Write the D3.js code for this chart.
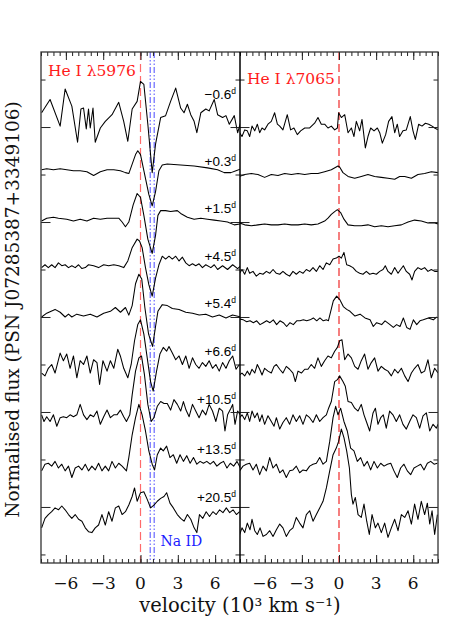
<!DOCTYPE html>
<html>
<head>
<meta charset="utf-8">
<script src="https://cdn.jsdelivr.net/npm/d3@7"></script>
<style>
  body { margin: 0; background: #fff; }
</style>
</head>
<body>
<script>
// epochs of the spectra (days), top to bottom
const epochs = ["−0.6", "+0.3", "+1.5", "+4.5", "+5.4", "+6.6", "+10.5", "+13.5", "+20.5"];
const lineNames = ["He I λ5976", "He I λ7065"];
const naD = [0.78, 1.1]; // Na I D1/D2 position in the He I 5876 frame (10^3 km/s)
const velMajor = [-6, -3, 0, 3, 6];
const offsetStep = 0.5; // vertical shift between consecutive spectra

// [velocity (10^3 km/s), flux relative to shifted continuum]
const l5976_0 = [[-7.95,0.15],[-7.27,0.29],[-6.46,0.01],[-6.06,0.40],[-5.52,0.22],[-5.06,-0.16],[-4.79,0.19],[-4.58,0.20],[-4.36,-0.02],[-4.18,0.19],[-4.04,-0.01],[-3.82,0.20],[-3.64,-0.16],[-3.23,-0.01],[-2.83,0.06],[-2.29,0.13],[-1.75,0.26],[-1.35,0.06],[-1.02,-0.15],[-0.67,0.19],[-0.27,0.27],[0.0,0.48],[0.27,0.45],[0.59,0.03],[0.94,-0.48],[1.21,-0.18],[1.62,0.10],[2.02,0.12],[2.42,0.27],[2.83,0.41],[3.23,0.20],[3.50,0.15],[3.77,0.24],[4.04,0.13],[4.31,0.06],[4.53,-0.06],[4.85,0.15],[5.25,0.19],[5.52,0.17],[5.93,0.29],[6.20,0.13],[6.60,0.10],[6.87,0.12],[7.14,0.03],[7.54,0.12],[7.81,-0.06],[8.08,0.06]];
const l5976_1 = [[-7.95,0.05],[-7.54,0.06],[-7.00,0.05],[-6.46,0.06],[-5.93,0.05],[-5.39,0.04],[-4.85,0.04],[-4.31,0.03],[-3.77,-0.01],[-3.23,0.03],[-2.69,0.05],[-2.15,0.05],[-1.62,0.04],[-1.21,0.02],[-0.94,0.01],[-0.67,0.11],[-0.40,0.21],[-0.22,0.25],[0.0,0.21],[0.27,0.04],[0.67,-0.21],[0.94,-0.33],[1.21,-0.18],[1.48,0.04],[1.75,0.10],[2.15,0.11],[3.23,0.10],[4.31,0.09],[5.39,0.07],[6.20,0.05],[6.73,0.02],[7.27,0.02],[7.68,0.04],[8.08,0.06]];
const l5976_2 = [[-7.95,0.01],[-7.54,0.04],[-7.00,0.05],[-6.60,0.04],[-5.93,0.03],[-5.39,0.01],[-4.85,0.03],[-4.31,0.01],[-3.77,0.04],[-3.23,0.03],[-2.69,0.04],[-2.15,0.04],[-1.75,0.04],[-1.48,0.0],[-1.21,-0.05],[-0.94,0.0],[-0.59,0.18],[-0.27,0.30],[0.0,0.26],[0.27,0.07],[0.59,-0.18],[0.94,-0.33],[1.21,-0.14],[1.40,0.07],[1.62,0.12],[2.02,0.12],[2.42,0.11],[2.96,0.12],[3.23,0.09],[3.77,0.05],[4.31,0.03],[4.85,0.04],[5.39,0.03],[5.93,0.02],[6.46,0.01],[7.00,0.0],[7.54,-0.03],[8.08,-0.02]];
const l5976_3 = [[-7.95,0.02],[-7.68,0.05],[-7.41,0.02],[-7.14,0.05],[-6.87,0.02],[-6.60,0.07],[-6.33,0.04],[-6.06,0.05],[-5.79,0.02],[-5.52,0.04],[-5.25,0.02],[-4.98,0.05],[-4.71,0.01],[-4.44,0.02],[-4.18,0.05],[-3.77,0.04],[-3.37,0.02],[-2.96,0.05],[-2.56,0.04],[-2.15,0.05],[-1.75,0.04],[-1.35,0.02],[-1.02,0.09],[-0.67,0.23],[-0.27,0.32],[-0.08,0.30],[0.13,0.23],[0.40,0.02],[0.67,-0.16],[0.94,-0.28],[1.21,-0.09],[1.48,0.05],[1.75,0.14],[2.02,0.11],[2.29,0.14],[2.56,0.11],[2.83,0.14],[3.10,0.09],[3.37,0.13],[3.64,0.07],[3.91,0.04],[4.18,0.06],[4.44,0.04],[4.71,0.06],[4.98,0.02],[5.25,0.05],[5.66,0.02],[5.93,0.05],[6.20,0.0],[6.60,0.04],[7.00,0.0],[7.41,0.05],[7.81,0.01],[8.08,0.04]];
const l5976_4 = [[-7.95,0.0],[-7.54,0.04],[-6.87,0.08],[-6.46,0.05],[-6.06,0.0],[-5.79,0.03],[-5.52,0.0],[-5.12,0.03],[-4.58,0.01],[-4.04,0.03],[-3.50,0.0],[-2.96,0.04],[-2.42,0.06],[-2.02,0.10],[-1.61,0.05],[-1.21,0.10],[-0.94,0.02],[-0.67,0.12],[-0.40,0.35],[-0.13,0.45],[0.10,0.40],[0.35,0.10],[0.65,-0.18],[0.97,-0.31],[1.21,-0.10],[1.40,0.06],[1.75,0.13],[2.16,0.12],[2.56,0.09],[3.10,0.08],[3.64,0.05],[4.18,0.04],[4.72,0.02],[5.25,0.03],[5.79,0.0],[6.33,0.02],[6.87,-0.01],[7.40,0.02],[8.08,0.0]];
const l5976_5 = [[-7.95,-0.09],[-7.68,-0.12],[-7.41,-0.04],[-7.14,0.0],[-6.87,-0.09],[-6.46,0.12],[-6.20,0.04],[-5.93,0.11],[-5.66,-0.04],[-5.39,0.09],[-5.12,-0.14],[-4.85,0.04],[-4.58,0.0],[-4.31,0.09],[-4.04,-0.09],[-3.77,0.05],[-3.50,0.02],[-3.29,-0.21],[-3.02,0.04],[-2.69,-0.07],[-2.42,0.04],[-2.15,-0.04],[-1.83,0.16],[-1.62,0.09],[-1.35,-0.04],[-1.02,-0.14],[-0.75,0.0],[-0.48,0.25],[-0.22,0.42],[0.0,0.47],[0.27,0.32],[0.54,0.07],[0.81,-0.18],[1.02,-0.28],[1.29,-0.07],[1.56,0.11],[1.83,0.18],[2.10,0.14],[2.29,0.19],[2.56,0.12],[2.83,0.05],[3.10,0.09],[3.37,0.0],[3.64,0.09],[3.91,-0.04],[4.18,0.07],[4.44,0.0],[4.71,-0.04],[4.98,0.02],[5.25,-0.02],[5.52,0.04],[5.79,-0.04],[6.06,0.0],[6.33,-0.07],[6.60,0.02],[6.87,-0.04],[7.14,0.04],[7.41,0.09],[7.68,-0.05],[7.95,0.0]];
const l5976_6 = [[-7.95,-0.03],[-7.76,-0.10],[-7.54,-0.05],[-7.27,-0.10],[-7.00,-0.03],[-6.73,-0.15],[-6.46,-0.06],[-6.20,-0.05],[-5.93,-0.06],[-5.66,-0.03],[-5.39,-0.05],[-5.12,-0.03],[-4.85,0.08],[-4.58,-0.03],[-4.31,-0.08],[-4.04,-0.03],[-3.77,-0.05],[-3.50,0.01],[-3.23,-0.13],[-2.96,-0.05],[-2.69,0.02],[-2.42,-0.06],[-2.15,-0.03],[-1.89,-0.03],[-1.62,0.02],[-1.35,-0.05],[-1.13,-0.10],[-0.86,-0.03],[-0.67,0.18],[-0.40,0.43],[-0.13,0.57],[0.08,0.59],[0.32,0.39],[0.59,0.08],[0.86,-0.10],[1.08,-0.06],[1.35,0.06],[1.62,0.11],[1.89,0.09],[2.15,0.09],[2.42,0.02],[2.69,0.13],[2.96,0.08],[3.23,0.01],[3.45,0.11],[3.66,0.02],[3.91,-0.05],[4.18,0.08],[4.44,0.01],[4.71,-0.06],[4.98,0.02],[5.25,-0.03],[5.52,0.08],[5.79,0.01],[6.06,-0.10],[6.33,0.04],[6.60,0.01],[6.79,-0.20],[7.00,-0.03],[7.27,0.04],[7.41,0.08],[7.60,-0.13],[7.81,0.01],[8.03,-0.03]];
const l5976_7 = [[-7.95,-0.12],[-7.68,-0.05],[-7.41,-0.04],[-7.14,-0.07],[-6.87,-0.02],[-6.60,-0.09],[-6.33,-0.05],[-6.06,-0.12],[-5.79,-0.07],[-5.52,-0.19],[-5.25,-0.09],[-4.98,-0.07],[-4.71,-0.11],[-4.44,-0.05],[-4.18,-0.12],[-3.91,-0.07],[-3.64,-0.11],[-3.37,-0.04],[-3.10,-0.12],[-2.83,-0.07],[-2.56,-0.12],[-2.29,-0.02],[-2.02,-0.09],[-1.75,-0.04],[-1.48,-0.07],[-1.13,-0.12],[-0.94,0.02],[-0.67,0.26],[-0.40,0.44],[-0.13,0.58],[0.13,0.47],[0.40,0.30],[0.67,0.09],[0.94,-0.05],[1.13,-0.11],[1.35,0.05],[1.62,0.12],[1.83,0.09],[2.10,0.14],[2.37,0.02],[2.64,0.05],[2.91,-0.04],[3.18,0.05],[3.45,-0.02],[3.72,0.04],[3.99,-0.04],[4.26,0.02],[4.53,-0.05],[4.79,-0.02],[5.06,-0.04],[5.33,-0.02],[5.60,-0.05],[5.87,-0.02],[6.14,-0.07],[6.41,-0.04],[6.68,-0.02],[6.95,-0.09],[7.22,-0.04],[7.49,-0.07],[7.76,-0.02],[8.03,-0.09]];
const l5976_8 = [[-7.95,-0.22],[-7.68,-0.12],[-7.41,-0.08],[-7.14,-0.05],[-6.87,-0.01],[-6.60,-0.03],[-6.33,0.01],[-6.06,-0.03],[-5.79,-0.08],[-5.52,-0.12],[-5.25,-0.08],[-4.98,-0.13],[-4.71,-0.15],[-4.44,-0.22],[-4.18,-0.26],[-3.91,-0.27],[-3.64,-0.22],[-3.37,-0.19],[-3.10,-0.08],[-2.83,-0.19],[-2.56,-0.05],[-2.29,-0.15],[-2.02,-0.01],[-1.75,0.01],[-1.48,-0.08],[-1.21,-0.05],[-0.94,0.02],[-0.67,0.11],[-0.48,0.20],[-0.27,0.06],[0.0,0.15],[0.27,0.16],[0.54,0.08],[0.81,-0.01],[1.08,0.02],[1.35,0.06],[1.62,0.09],[1.89,0.11],[2.10,0.15],[2.37,0.04],[2.64,-0.01],[2.96,-0.08],[3.23,-0.12],[3.50,-0.15],[3.77,-0.08],[4.04,-0.13],[4.31,-0.22],[4.53,-0.27],[4.74,-0.08],[5.01,-0.12],[5.28,-0.05],[5.55,-0.10],[5.82,-0.05],[6.09,-0.08],[6.36,-0.03],[6.63,-0.06],[6.90,-0.01],[7.17,-0.06],[7.44,-0.03],[7.71,-0.08],[7.97,-0.05]];

const l7065_0 = [[-8.03,-0.06],[-7.84,-0.10],[-7.62,-0.03],[-7.41,-0.04],[-7.22,-0.10],[-7.03,0.01],[-6.81,-0.04],[-6.60,0.03],[-6.41,-0.06],[-6.22,-0.01],[-6.01,-0.03],[-5.74,0.03],[-5.47,0.06],[-5.20,0.15],[-4.98,0.03],[-4.79,0.01],[-4.53,-0.03],[-4.18,0.13],[-3.91,-0.03],[-3.64,-0.01],[-3.37,-0.08],[-3.10,-0.04],[-2.77,-0.01],[-2.37,-0.01],[-1.97,0.04],[-1.70,0.10],[-1.43,0.03],[-1.16,0.03],[-0.89,-0.01],[-0.62,0.01],[-0.35,-0.03],[-0.13,-0.01],[-0.03,0.15],[0.19,0.10],[0.46,0.13],[0.73,-0.06],[1.00,-0.01],[1.21,-0.10],[1.40,0.06],[1.67,-0.04],[1.86,0.08],[2.13,-0.22],[2.34,-0.10],[2.56,-0.01],[2.83,-0.04],[3.10,-0.01],[3.29,-0.06],[3.50,-0.17],[3.77,-0.08],[4.01,0.06],[4.28,0.11],[4.50,-0.06],[4.71,0.03],[4.90,-0.10],[5.17,-0.04],[5.44,-0.03],[5.76,0.11],[5.98,-0.04],[6.17,-0.13],[6.44,0.03],[6.71,0.01],[6.98,0.04],[7.25,0.03],[7.52,0.01],[7.73,-0.01],[8.00,-0.03]];
const l7065_1 = [[-8.03,-0.02],[-7.62,0.0],[-7.08,0.01],[-6.55,0.0],[-6.01,-0.03],[-5.47,0.0],[-4.93,-0.01],[-4.39,0.01],[-3.85,0.0],[-3.31,0.01],[-2.77,0.0],[-2.24,0.01],[-1.70,0.01],[-1.16,0.03],[-0.62,0.05],[-0.08,0.09],[0.05,0.08],[0.32,0.02],[0.73,-0.02],[1.27,-0.04],[1.80,-0.02],[2.34,0.0],[2.88,-0.02],[3.42,-0.03],[3.96,-0.04],[4.50,-0.05],[4.90,-0.02],[5.31,-0.02],[5.85,-0.04],[6.38,0.0],[6.92,0.01],[7.46,0.03],[8.00,0.02]];
const l7065_2 = [[-8.03,-0.01],[-7.62,-0.03],[-7.08,-0.04],[-6.55,-0.03],[-6.01,-0.02],[-5.47,-0.03],[-4.93,-0.03],[-4.39,-0.02],[-3.85,-0.03],[-3.31,-0.03],[-2.77,-0.02],[-2.24,-0.03],[-1.70,-0.02],[-1.16,0.01],[-0.89,0.04],[-0.62,0.08],[-0.35,0.11],[-0.13,0.13],[0.13,0.10],[0.40,0.03],[0.73,-0.03],[1.27,-0.04],[1.80,-0.04],[2.34,-0.03],[2.88,-0.05],[3.42,-0.04],[3.96,-0.05],[4.50,-0.04],[5.04,-0.03],[5.58,0.0],[6.11,0.02],[6.65,0.01],[7.19,-0.01],[7.73,-0.01],[8.00,-0.02]];
const l7065_3 = [[-8.03,-0.04],[-7.84,0.0],[-7.62,-0.05],[-7.41,0.02],[-7.22,-0.04],[-6.95,-0.02],[-6.68,-0.07],[-6.41,-0.04],[-6.14,-0.05],[-5.87,-0.02],[-5.60,-0.04],[-5.33,0.0],[-5.06,-0.04],[-4.79,-0.05],[-4.53,-0.02],[-4.26,-0.05],[-3.99,-0.07],[-3.72,-0.02],[-3.45,-0.05],[-3.18,-0.02],[-2.91,-0.04],[-2.64,0.0],[-2.37,-0.02],[-2.10,0.02],[-1.83,-0.02],[-1.56,0.04],[-1.29,0.0],[-1.02,0.07],[-0.75,0.05],[-0.48,0.11],[-0.22,0.12],[0.0,0.14],[0.19,0.12],[0.40,0.18],[0.62,0.05],[0.86,0.04],[1.13,0.02],[1.40,-0.02],[1.67,-0.04],[1.94,-0.05],[2.21,-0.02],[2.48,-0.05],[2.75,-0.04],[3.02,-0.05],[3.29,-0.02],[3.56,0.0],[3.74,0.04],[3.96,-0.02],[4.23,-0.05],[4.50,0.02],[4.77,-0.04],[4.98,0.0],[5.20,0.04],[5.44,-0.02],[5.71,-0.05],[5.90,-0.11],[6.11,-0.02],[6.38,0.02],[6.65,0.0],[6.92,0.02],[7.19,-0.02],[7.46,0.0],[7.73,-0.02],[8.00,-0.02]];
const l7065_4 = [[-8.10,-0.02],[-7.73,-0.03],[-7.46,-0.05],[-7.19,-0.04],[-6.92,-0.06],[-6.65,-0.04],[-6.38,-0.08],[-6.11,-0.06],[-5.85,-0.04],[-5.58,-0.06],[-5.31,-0.03],[-5.04,-0.08],[-4.77,-0.04],[-4.50,-0.06],[-4.23,-0.10],[-3.96,-0.06],[-3.69,-0.08],[-3.42,-0.04],[-3.15,-0.04],[-2.88,-0.03],[-2.61,-0.04],[-2.34,-0.03],[-2.07,-0.01],[-1.80,-0.04],[-1.54,-0.01],[-1.27,-0.04],[-1.00,-0.03],[-0.86,-0.04],[-0.46,0.17],[-0.19,0.22],[0.08,0.18],[0.35,0.11],[0.62,0.08],[0.89,0.06],[1.29,0.01],[1.70,0.03],[2.10,-0.01],[2.51,-0.03],[2.77,-0.10],[3.04,-0.06],[3.45,-0.08],[3.72,-0.04],[4.12,-0.08],[4.39,-0.11],[4.66,-0.08],[4.93,-0.10],[5.20,-0.01],[5.47,-0.11],[5.74,-0.13],[6.01,-0.03],[6.28,-0.08],[6.54,-0.04],[6.81,-0.03],[7.22,-0.01],[7.62,-0.03],[7.89,0.0]];
const l7065_5 = [[-8.03,-0.11],[-7.84,-0.09],[-7.62,-0.12],[-7.41,-0.07],[-7.22,-0.11],[-7.03,-0.05],[-6.81,-0.09],[-6.60,0.0],[-6.41,-0.05],[-6.22,-0.11],[-6.01,-0.04],[-5.74,-0.07],[-5.47,-0.09],[-5.25,-0.02],[-5.06,0.0],[-4.79,-0.05],[-4.53,-0.09],[-4.26,-0.02],[-3.99,-0.05],[-3.72,-0.09],[-3.53,-0.18],[-3.31,-0.07],[-3.04,-0.09],[-2.77,-0.05],[-2.51,-0.05],[-2.24,0.0],[-1.97,-0.04],[-1.70,0.07],[-1.43,-0.02],[-1.16,0.04],[-0.89,0.09],[-0.62,0.07],[-0.35,0.14],[-0.13,0.18],[0.05,0.25],[0.24,0.26],[0.46,0.05],[0.73,0.11],[1.00,0.07],[1.27,-0.02],[1.54,-0.05],[1.80,0.04],[2.07,0.11],[2.34,-0.05],[2.61,0.02],[2.88,0.07],[3.15,-0.07],[3.42,-0.02],[3.69,-0.05],[3.96,-0.07],[4.23,-0.12],[4.50,-0.05],[4.77,-0.09],[5.04,-0.04],[5.31,-0.12],[5.58,-0.18],[5.85,-0.09],[6.11,-0.04],[6.38,0.0],[6.65,-0.09],[6.92,-0.07],[7.19,0.05],[7.46,-0.14],[7.73,-0.04],[8.00,-0.09]];
const l7065_6 = [[-8.03,-0.06],[-7.84,-0.03],[-7.62,-0.08],[-7.41,-0.01],[-7.22,-0.10],[-7.03,0.01],[-6.81,-0.06],[-6.60,-0.01],[-6.41,-0.10],[-6.22,-0.03],[-6.01,-0.13],[-5.74,-0.04],[-5.47,-0.10],[-5.25,-0.15],[-5.06,-0.06],[-4.79,-0.18],[-4.53,-0.11],[-4.26,-0.06],[-3.99,-0.13],[-3.72,-0.03],[-3.45,-0.10],[-3.18,-0.04],[-2.91,-0.13],[-2.64,-0.03],[-2.37,-0.06],[-2.10,-0.11],[-1.83,-0.03],[-1.56,-0.10],[-1.29,-0.06],[-1.02,-0.03],[-0.84,0.04],[-0.62,0.11],[-0.35,0.32],[-0.13,0.34],[0.05,0.38],[0.32,0.32],[0.51,0.27],[0.73,0.11],[1.00,0.10],[1.27,0.04],[1.54,0.01],[1.80,0.08],[2.02,-0.03],[2.21,-0.10],[2.48,-0.20],[2.75,-0.01],[2.94,0.04],[3.15,-0.13],[3.37,-0.06],[3.58,-0.03],[3.82,-0.17],[4.09,0.01],[4.36,-0.03],[4.63,-0.10],[4.90,-0.03],[5.17,-0.13],[5.44,-0.18],[5.71,-0.10],[5.98,-0.03],[6.25,-0.06],[6.52,-0.17],[6.79,-0.04],[7.06,-0.01],[7.33,-0.20],[7.60,-0.13],[7.87,-0.17],[8.00,-0.13]];
const l7065_7 = [[-8.03,-0.12],[-7.76,-0.07],[-7.49,-0.05],[-7.22,-0.04],[-6.95,-0.11],[-6.68,-0.05],[-6.41,-0.16],[-6.14,-0.07],[-5.87,-0.12],[-5.60,0.02],[-5.33,-0.09],[-5.06,-0.05],[-4.79,-0.14],[-4.53,-0.11],[-4.26,-0.19],[-3.99,-0.12],[-3.72,-0.11],[-3.45,-0.07],[-3.18,-0.14],[-2.91,-0.11],[-2.64,-0.12],[-2.37,-0.07],[-2.10,-0.05],[-1.83,-0.04],[-1.56,0.02],[-1.29,-0.05],[-1.02,-0.02],[-0.75,0.19],[-0.48,0.44],[-0.27,0.56],[-0.08,0.47],[0.13,0.54],[0.40,0.40],[0.67,0.30],[0.94,0.12],[1.21,0.09],[1.48,-0.02],[1.75,0.02],[2.02,-0.07],[2.29,-0.02],[2.56,-0.11],[2.83,-0.02],[3.10,-0.09],[3.37,-0.04],[3.64,-0.07],[3.91,-0.05],[4.18,-0.04],[4.44,-0.12],[4.71,-0.19],[4.98,-0.09],[5.25,-0.05],[5.52,-0.12],[5.79,-0.16],[6.06,-0.09],[6.33,-0.07],[6.60,-0.05],[6.87,-0.11],[7.14,-0.04],[7.41,-0.02],[7.68,-0.05],[7.95,-0.04]];
const l7065_8 = [[-8.03,-0.29],[-7.84,-0.22],[-7.62,-0.27],[-7.41,-0.17],[-7.19,-0.24],[-7.03,-0.13],[-6.81,-0.25],[-6.60,-0.29],[-6.38,-0.22],[-6.14,-0.31],[-5.87,-0.29],[-5.60,-0.25],[-5.33,-0.31],[-5.06,-0.24],[-4.79,-0.18],[-4.53,-0.22],[-4.26,-0.31],[-3.99,-0.25],[-3.72,-0.22],[-3.45,-0.11],[-3.18,-0.17],[-2.91,-0.22],[-2.64,-0.08],[-2.37,-0.04],[-2.10,-0.15],[-1.83,-0.08],[-1.56,-0.01],[-1.29,0.06],[-1.02,0.20],[-0.75,0.38],[-0.48,0.55],[-0.22,0.62],[-0.03,0.69],[0.19,0.82],[0.40,0.73],[0.62,0.59],[0.84,0.41],[1.00,0.13],[1.13,0.03],[1.32,0.10],[1.54,-0.08],[1.80,-0.11],[2.02,0.03],[2.24,-0.15],[2.45,-0.29],[2.67,-0.08],[2.94,-0.22],[3.15,-0.17],[3.42,-0.27],[3.69,-0.17],[3.96,-0.32],[4.23,-0.22],[4.50,-0.13],[4.77,-0.25],[5.04,-0.08],[5.31,-0.11],[5.58,-0.04],[5.85,-0.18],[6.11,0.03],[6.38,-0.13],[6.65,0.06],[6.92,-0.08],[7.14,0.04],[7.33,-0.18],[7.52,-0.04],[7.73,-0.29],[7.95,-0.08]];

const spectra5976 = [l5976_0, l5976_1, l5976_2, l5976_3, l5976_4, l5976_5, l5976_6, l5976_7, l5976_8];
const spectra7065 = [l7065_0, l7065_1, l7065_2, l7065_3, l7065_4, l7065_5, l7065_6, l7065_7, l7065_8];

const width = 463, height = 617;
const plotTop = 52, plotBottom = 563;
const panels = [
  { x0: 41, x1: 240, spectra: spectra5976, name: lineNames[0], nameY: 76, na: true },
  { x0: 240, x1: 438, spectra: spectra7065, name: lineNames[1], nameY: 84, na: false }
];
const labelLift = [0.29, 0.09, 0.09, 0.09, 0.09, 0.09, 0.08, 0.06, 0.05];

const y = d3.scaleLinear().domain([-4.59, 0.79]).range([plotBottom, plotTop]);
const serif = "'DejaVu Serif', serif";

const svg = d3.select("body").append("svg")
  .attr("width", width)
  .attr("height", height)
  .attr("font-family", serif);

const halfTicks = d3.range(-8, 8.01, 0.5);
const yMajor = d3.range(-4, 0.01, 1);
const yMinor = d3.range(-4.5, 0.51, 0.5).filter(d => !Number.isInteger(d));

panels.forEach((p, pi) => {
  const x = d3.scaleLinear().domain([-8, 8]).range([p.x0, p.x1]);
  const g = svg.append("g");

  const clipId = "clip" + pi;
  svg.append("clipPath").attr("id", clipId)
    .append("rect")
    .attr("x", p.x0).attr("y", plotTop)
    .attr("width", p.x1 - p.x0).attr("height", plotBottom - plotTop);

  // reference lines
  g.append("line")
    .attr("x1", x(0)).attr("x2", x(0))
    .attr("y1", plotTop).attr("y2", plotBottom)
    .attr("stroke", pi === 0 ? "#ff6a6a" : "#ee2a2a")
    .attr("stroke-width", 1.2)
    .attr("stroke-dasharray", "8,4");

  if (p.na) {
    naD.forEach(v => {
      g.append("line")
        .attr("x1", x(v)).attr("x2", x(v))
        .attr("y1", plotTop).attr("y2", plotBottom)
        .attr("stroke", "#5b5bff")
        .attr("stroke-width", 1.1)
        .attr("stroke-dasharray", "6,2,1.5,2,1.5,2");
    });
  }

  const line = d3.line().x(d => x(d[0])).y(d => y(d[1]));

  g.append("g")
    .attr("clip-path", `url(#${clipId})`)
    .selectAll("path")
    .data(p.spectra)
    .join("path")
    .attr("fill", "none")
    .attr("stroke", "#000")
    .attr("stroke-width", 1.05)
    .attr("stroke-linejoin", "round")
    .attr("d", (s, i) => line(s.map(d => [d[0], d[1] - i * offsetStep])));

  // axes: ticks drawn inward on all four sides
  const noLabel = () => "";
  const addAxis = (axis, tx, ty, vals, size) => {
    const a = g.append("g")
      .attr("transform", `translate(${tx},${ty})`)
      .call(axis.tickValues(vals).tickSize(size).tickFormat(noLabel));
    a.select(".domain").remove();
    a.selectAll(".tick line").attr("stroke", "#222").attr("stroke-width", 1);
    return a;
  };
  addAxis(d3.axisBottom(x), 0, plotBottom, halfTicks, -4);
  addAxis(d3.axisBottom(x), 0, plotBottom, velMajor, -8);
  addAxis(d3.axisTop(x), 0, plotTop, halfTicks, -4);
  addAxis(d3.axisTop(x), 0, plotTop, velMajor, -8);
  addAxis(d3.axisLeft(y), p.x0, 0, yMinor, -4.5);
  addAxis(d3.axisLeft(y), p.x0, 0, yMajor, -9.5);
  addAxis(d3.axisRight(y), p.x1, 0, yMinor, -4.5);
  addAxis(d3.axisRight(y), p.x1, 0, yMajor, -9.5);

  // tick labels
  g.append("g")
    .selectAll("text")
    .data(velMajor)
    .join("text")
    .attr("x", d => x(d))
    .attr("y", 589)
    .attr("text-anchor", "middle")
    .attr("font-size", 17)
    .attr("fill", "#111")
    .text(d => d3.format("d")(d));

  // line name
  g.append("text")
    .attr("x", p.x0 + 7)
    .attr("y", p.nameY)
    .attr("font-size", 15.5)
    .attr("fill", "#ff1a1a")
    .text(p.name);

  if (p.na) {
    g.append("text")
      .attr("x", x(1.6))
      .attr("y", 546)
      .attr("font-size", 14)
      .attr("fill", "#1a1aff")
      .text("Na ID");

    // epoch labels
    const lab = g.append("g")
      .selectAll("text")
      .data(epochs)
      .join("text")
      .attr("x", p.x1 - 4)
      .attr("y", (d, i) => y(labelLift[i] - i * offsetStep))
      .attr("text-anchor", "end")
      .attr("font-family", "'Liberation Sans', Arial, sans-serif")
      .attr("font-size", 13.5)
      .attr("fill", "#000");
    lab.append("tspan").text(d => d);
    lab.append("tspan")
      .attr("dy", -5)
      .attr("font-size", 8.5)
      .text("d");
  }
});

// frame
svg.append("rect")
  .attr("x", 41).attr("y", plotTop)
  .attr("width", 438 - 41).attr("height", plotBottom - plotTop)
  .attr("fill", "none")
  .attr("stroke", "#333")
  .attr("stroke-width", 1.3);
svg.append("line")
  .attr("x1", 240).attr("x2", 240)
  .attr("y1", plotTop).attr("y2", plotBottom)
  .attr("stroke", "#000")
  .attr("stroke-width", 1.5);

// axis titles
svg.append("text")
  .attr("x", 240)
  .attr("y", 612)
  .attr("text-anchor", "middle")
  .attr("font-size", 19.5)
  .attr("fill", "#111")
  .text("velocity (10³ km s⁻¹)");

svg.append("text")
  .attr("transform", `translate(19,${(plotTop + plotBottom) / 2 + 2}) rotate(-90)`)
  .attr("text-anchor", "middle")
  .attr("font-size", 18.5)
  .attr("fill", "#111")
  .text("Normalised flux (PSN J07285387+3349106)");
</script>
</body>
</html>
